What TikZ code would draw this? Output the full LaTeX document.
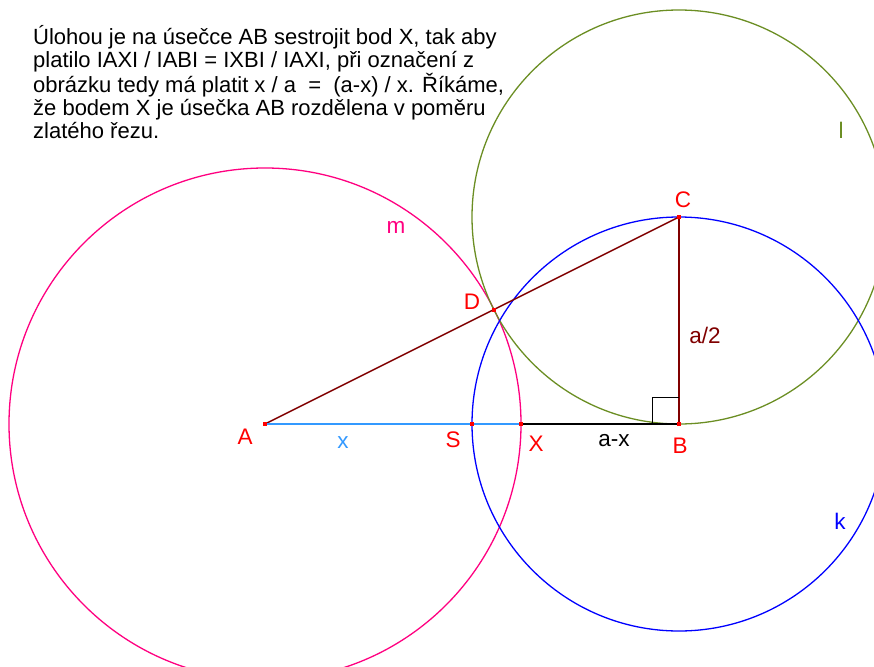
\documentclass[tikz,border=0pt]{standalone}
\usepackage{fontspec}
\setmainfont{Liberation Sans}
\definecolor{pinkm}{RGB}{255,0,128}
\definecolor{olivel}{RGB}{107,142,35}
\definecolor{bluek}{RGB}{0,0,255}
\definecolor{lightx}{RGB}{51,153,255}
\definecolor{maroonc}{RGB}{128,0,0}
\definecolor{redpt}{RGB}{255,0,0}
\begin{document}
\begin{tikzpicture}[x=1pt,y=-1pt,
  circ/.style={line width=1.3pt},
  seg/.style={line width=1.5pt},
  lbl/.style={inner sep=0pt, font=\fontsize{22.5}{26}\selectfont},
  ptmark/.style={fill=redpt}]
\useasboundingbox (0,0) rectangle (874,666);
\clip (0,0) rectangle (874,666);
\coordinate (A) at (265,424);
\coordinate (S) at (472,424);
\coordinate (X) at (521,424);
\coordinate (B) at (679,424);
\coordinate (C) at (679,217);
\coordinate (D) at (494,309.5);
% circles
\draw[circ, pinkm] (A) circle [radius=256];
\draw[circ, olivel] (C) circle [radius=207];
\draw[circ, bluek] (B) circle [radius=207];
% segments
\draw[seg, maroonc] (A) -- (C);
\draw[seg, maroonc] (B) -- (C);
\draw[seg, lightx] (A) -- (X);
\draw[seg, black] (X) -- (B);
% right angle mark
\draw[line width=1pt, black] (652,424) -- (652,397) -- (679,397);
% points
\foreach \p in {A,S,X,B,C,D}
  \fill[ptmark, shift={(\p)}] (-2,-2) rectangle (2,2);
% labels
\node[lbl, text=redpt] (lA) at (245,437) {A};
\node[lbl, text=lightx] (lx) at (343,443) {x};
\node[lbl, text=redpt] (lS) at (453,440) {S};
\node[lbl, text=redpt] (lX) at (536,444) {X};
\node[lbl, text=black] (lax) at (614,441) {a-x};
\node[lbl, text=redpt] (lB) at (680,446) {B};
\node[lbl, text=redpt] (lC) at (683,200) {C};
\node[lbl, text=maroonc] (la2) at (705,335) {a/2};
\node[lbl, text=redpt] (lD) at (472,302) {D};
\node[lbl, text=pinkm] (lm) at (396,227) {m};
\node[lbl, text=olivel] (ll) at (841,130) {l};
\node[lbl, text=bluek] (lk) at (840,521) {k};
% text
\node[anchor=north west, align=left, inner sep=0pt, font=\fontsize{22}{23}\selectfont] (txt) at (33,25)
{Úlohou je na úsečce AB sestrojit bod X, tak aby\\
platilo IAXI / IABI = IXBI / IAXI, při označení z\\
obrázku tedy má platit x / a \ = \ (a-x) / x. Říkáme,\\
že bodem X je úsečka AB rozdělena v poměru\\
zlatého řezu.};
\end{tikzpicture}
\end{document}
